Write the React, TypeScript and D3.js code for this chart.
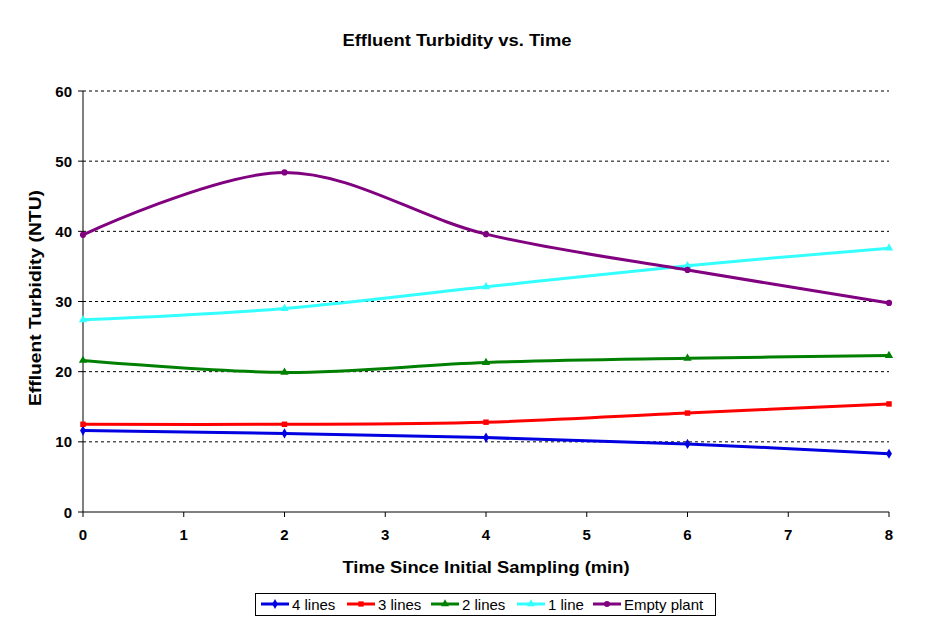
import React from "react";
import * as d3 from "d3";

// ── Data ──────────────────────────────────────────────────────
const TIMES = [0, 2, 4, 6, 8];
const LINES_4 = [11.6, 11.2, 10.6, 9.7, 8.3];
const LINES_3 = [12.5, 12.5, 12.8, 14.1, 15.4];
const LINES_2 = [21.6, 19.9, 21.3, 21.9, 22.3];
const LINE_1 = [27.4, 29.0, 32.1, 35.1, 37.6];
const EMPTY = [39.5, 48.4, 39.6, 34.5, 29.8];

const X_TICKS = [0, 1, 2, 3, 4, 5, 6, 7, 8];
const Y_TICKS = [0, 10, 20, 30, 40, 50, 60];

type Marker = "diamond" | "square" | "triangle" | "circle";

const SERIES: { name: string; values: number[]; color: string; marker: Marker }[] = [
  { name: "4 lines", values: LINES_4, color: "#0000e0", marker: "diamond" },
  { name: "3 lines", values: LINES_3, color: "#ff0000", marker: "square" },
  { name: "2 lines", values: LINES_2, color: "#008000", marker: "triangle" },
  { name: "1 line", values: LINE_1, color: "#33ffff", marker: "triangle" },
  { name: "Empty plant", values: EMPTY, color: "#800080", marker: "circle" },
];

// ── Geometry ──────────────────────────────────────────────────
const W = 934;
const H = 641;
const PLOT = { left: 83, right: 889, top: 91, bottom: 512 };
const FONT = "'Liberation Sans', Arial, sans-serif";

const x = d3.scaleLinear().domain([0, 8]).range([PLOT.left, PLOT.right]);
const y = d3.scaleLinear().domain([0, 60]).range([PLOT.bottom, PLOT.top]);

const symbolFor: Record<Marker, d3.SymbolType> = {
  diamond: d3.symbolDiamond,
  square: d3.symbolSquare,
  triangle: d3.symbolTriangle,
  circle: d3.symbolCircle,
};

function MarkerShape({ m, cx, cy, color, size = 30 }: { m: Marker; cx: number; cy: number; color: string; size?: number }) {
  const d = d3.symbol().type(symbolFor[m]).size(size)() ?? "";
  return <path d={d} transform={`translate(${cx},${cy})`} fill={color} />;
}

// legend item x positions (line sample start)
const LEGEND_X = [261, 347, 431, 517, 593];

export default function App() {
  const line = d3
    .line<number>()
    .x((_d, i) => x(TIMES[i]))
    .y((d) => y(d))
    .curve(d3.curveCatmullRom.alpha(0.5));

  return (
    <svg width={W} height={H} style={{ display: "block", margin: -8, background: "#fff" }} fontFamily={FONT}>
      <rect width={W} height={H} fill="#fff" />

      {/* Title */}
      <text x={457} y={46} textAnchor="middle" fontSize={16} fontWeight="bold" textLength={229} lengthAdjust="spacingAndGlyphs">
        Effluent Turbidity vs. Time
      </text>

      {/* Gridlines */}
      {Y_TICKS.filter((t) => t > 0).map((t) => (
        <line key={t} x1={PLOT.left} x2={PLOT.right} y1={y(t)} y2={y(t)} stroke="#000" strokeWidth={1} strokeDasharray="3,3" />
      ))}

      {/* Axes */}
      <line x1={PLOT.left} x2={PLOT.left} y1={PLOT.top} y2={PLOT.bottom} stroke="#000" />
      <line x1={PLOT.left} x2={PLOT.right} y1={PLOT.bottom} y2={PLOT.bottom} stroke="#000" />
      {Y_TICKS.map((t) => (
        <g key={t}>
          <line x1={PLOT.left - 5} x2={PLOT.left} y1={y(t)} y2={y(t)} stroke="#000" />
          <text x={PLOT.left - 11} y={y(t) + 5.5} textAnchor="end" fontSize={15} fontWeight="bold">
            {t}
          </text>
        </g>
      ))}
      {X_TICKS.map((t) => (
        <g key={t}>
          <line x1={x(t)} x2={x(t)} y1={PLOT.bottom} y2={PLOT.bottom + 5} stroke="#000" />
          <text x={x(t)} y={540} textAnchor="middle" fontSize={15} fontWeight="bold">
            {t}
          </text>
        </g>
      ))}

      {/* Axis titles */}
      <text x={486} y={573} textAnchor="middle" fontSize={17} fontWeight="bold" textLength={287} lengthAdjust="spacingAndGlyphs">
        Time Since Initial Sampling (min)
      </text>
      <text
        transform="translate(41,298) rotate(-90)"
        textAnchor="middle"
        fontSize={17}
        fontWeight="bold"
        textLength={216}
        lengthAdjust="spacingAndGlyphs"
      >
        Effluent Turbidity (NTU)
      </text>

      {/* Series */}
      {SERIES.map((s) => (
        <g key={s.name}>
          <path d={line(s.values) ?? ""} fill="none" stroke={s.color} strokeWidth={3} />
          {s.values.map((v, i) => (
            <MarkerShape key={i} m={s.marker} cx={x(TIMES[i])} cy={y(v)} color={s.color} />
          ))}
        </g>
      ))}

      {/* Legend */}
      <rect x={255.5} y={593.5} width={460} height={22} fill="#fff" stroke="#000" />
      {SERIES.map((s, i) => (
        <g key={s.name}>
          <line x1={LEGEND_X[i]} x2={LEGEND_X[i] + 28} y1={604} y2={604} stroke={s.color} strokeWidth={3} />
          <MarkerShape m={s.marker} cx={LEGEND_X[i] + 14} cy={604} color={s.color} size={28} />
          <text x={LEGEND_X[i] + 31} y={610} fontSize={15}>
            {s.name}
          </text>
        </g>
      ))}
    </svg>
  );
}
